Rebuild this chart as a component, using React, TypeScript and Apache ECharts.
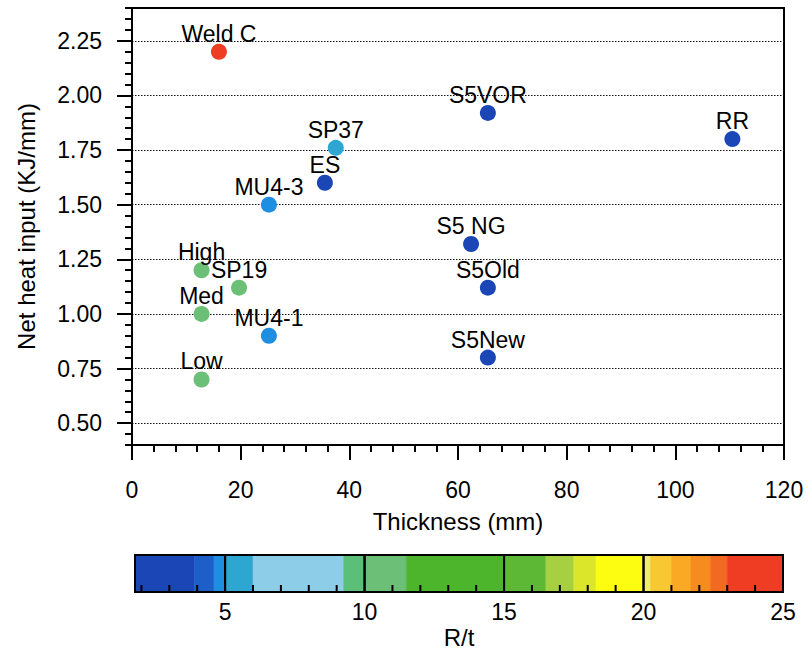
import React, { useEffect, useRef } from "react";
import * as echarts from "echarts";

// ---- data ----
const pointNames = ["Weld C", "S5VOR", "RR", "SP37", "ES", "MU4-3", "S5 NG", "High", "SP19", "S5Old", "Med", "MU4-1", "S5New", "Low"];
const thickness = [16, 65.5, 110.5, 37.5, 35.5, 25.2, 62.4, 12.8, 19.7, 65.5, 12.8, 25.2, 65.5, 12.8];
const heatInput = [2.2, 1.92, 1.8, 1.76, 1.6, 1.5, 1.32, 1.2, 1.12, 1.12, 1.0, 0.9, 0.8, 0.7];
const rtValues = [24, 2.5, 2.5, 5.5, 2.5, 4.8, 2.5, 10.5, 10.8, 2.5, 10.5, 4.8, 2.5, 10.5];

const yMajorTicks = [0.5, 0.75, 1.0, 1.25, 1.5, 1.75, 2.0, 2.25];

// colour bar (R/t)
const cbStarts = [1.77, 3.9, 4.6, 5, 6, 9.25, 10, 11.5, 15, 16.5, 17.5, 18.3, 20, 20.25, 21, 21.7, 22.4, 23];
const cbEnds = [3.9, 4.6, 5, 6, 9.25, 10, 11.5, 15, 16.5, 17.5, 18.3, 20, 20.25, 21, 21.7, 22.4, 23, 25];
const cbColors = [
  "#1a47b5", "#1d5ec9", "#1e8ee0", "#2ea6d2", "#8dcde8", "#5cbf78", "#6bbf76", "#4cb52c",
  "#5db935", "#a6d040", "#dbe62a", "#fdfd12", "#f0ec70", "#f8c832", "#f9a924", "#f68b1f",
  "#f26922", "#ef3d23",
];
const cbBoxStarts = [1.77, 5, 10, 15, 20];
const cbBoxEnds = [5, 10, 15, 20, 25];
const cbLabelValues = [5, 10, 15, 20, 25];
const cbMinorTicks = [2, 3, 4, 6, 7, 8, 9, 11, 12, 13, 14, 16, 17, 18, 19, 21, 22, 23, 24];

const FONT = "'Liberation Sans', Arial, Helvetica, sans-serif";
const TICK_FS = 23;
const TITLE_FS = 24;

export default function App() {
  const ref = useRef<HTMLDivElement>(null);
  useEffect(() => {
    if (!ref.current) return;
    const chart = echarts.init(ref.current, undefined, { renderer: "svg" });
    const black = "#000";
    const option: any = {
      animation: false,
      backgroundColor: "#fff",
      textStyle: { fontFamily: FONT, color: black },
      grid: [
        { left: 132, top: 8, width: 652, height: 437, show: true, borderColor: black, borderWidth: 2, containLabel: false },
        { left: 135, top: 555, width: 648, height: 37, containLabel: false },
      ],
      visualMap: {
        type: "piecewise",
        show: false,
        dimension: 2,
        seriesIndex: 0,
        pieces: cbStarts.map((s, i) => ({ gte: s, lt: cbEnds[i], color: cbColors[i] })),
      },
      xAxis: [
        {
          gridIndex: 0,
          type: "value",
          min: 0,
          max: 120,
          interval: 20,
          axisLine: { show: true, lineStyle: { color: black, width: 2 } },
          axisTick: { show: true, length: 15, lineStyle: { color: black, width: 2 } },
          minorTick: { show: true, splitNumber: 5, length: 7, lineStyle: { color: black, width: 2 } },
          axisLabel: { color: black, fontSize: TICK_FS, fontFamily: FONT, margin: 33 },
          splitLine: { show: false },
          name: "Thickness (mm)",
          nameLocation: "middle",
          nameGap: 64,
          nameTextStyle: { color: black, fontSize: TITLE_FS, fontFamily: FONT },
        },
        {
          gridIndex: 1,
          type: "value",
          min: 1.77,
          max: 25,
          axisLine: { show: false },
          axisTick: { show: false },
          axisLabel: { color: black, fontSize: TICK_FS, fontFamily: FONT, margin: 8, customValues: cbLabelValues },
          splitLine: { show: false },
          name: "R/t",
          nameLocation: "middle",
          nameGap: 33,
          nameTextStyle: { color: black, fontSize: TITLE_FS, fontFamily: FONT },
        },
      ],
      yAxis: [
        {
          gridIndex: 0,
          type: "value",
          min: 0.4,
          max: 2.4,
          interval: 0.05,
          axisLine: { show: true, lineStyle: { color: black, width: 2 } },
          axisTick: { show: true, length: 7, lineStyle: { color: black, width: 2 } },
          axisLabel: { show: false },
          splitLine: { show: false },
        },
        {
          gridIndex: 0,
          type: "value",
          min: 0.4,
          max: 2.4,
          position: "left",
          axisLine: { show: true, lineStyle: { color: black, width: 2 } },
          axisTick: { show: true, length: 15, customValues: yMajorTicks, lineStyle: { color: black, width: 2 } },
          axisLabel: {
            color: black,
            fontSize: TICK_FS,
            fontFamily: FONT,
            margin: 30,
            customValues: yMajorTicks,
            formatter: (v: number) => v.toFixed(2),
          },
          splitLine: { show: true, lineStyle: { color: "#111", width: 1.2, type: [1.5, 1.5] } },
          name: "Net heat input (KJ/mm)",
          nameLocation: "middle",
          nameGap: 94,
          nameTextStyle: { color: black, fontSize: TITLE_FS, fontFamily: FONT },
        },
        {
          gridIndex: 1,
          type: "value",
          min: 0,
          max: 1,
          show: false,
        },
      ],
      series: [
        {
          type: "scatter",
          xAxisIndex: 0,
          yAxisIndex: 0,
          symbolSize: 16,
          z: 3,
          itemStyle: { opacity: 1 },
          data: pointNames.map((n, i) => ({ name: n, value: [thickness[i], heatInput[i], rtValues[i]] })),
          label: {
            show: true,
            position: "top",
            distance: 0,
            formatter: "{b}",
            color: black,
            fontSize: TICK_FS,
            lineHeight: 20,
            fontFamily: FONT,
          },
        },
        {
          type: "custom",
          xAxisIndex: 1,
          yAxisIndex: 2,
          z: 2,
          silent: true,
          data: cbStarts.map((s, i) => [s, cbEnds[i], i]),
          renderItem: (params: any, api: any) => {
            const p0 = api.coord([api.value(0), 0]);
            const p1 = api.coord([api.value(1), 1]);
            const c = cbColors[api.value(2)];
            return {
              type: "rect",
              shape: { x: p0[0], y: p1[1], width: p1[0] - p0[0], height: p0[1] - p1[1] },
              style: { fill: c, stroke: c, lineWidth: 0.5 },
            };
          },
        },
        {
          type: "custom",
          xAxisIndex: 1,
          yAxisIndex: 2,
          z: 5,
          silent: true,
          data: cbBoxStarts.map((s, i) => [s, cbBoxEnds[i]]),
          renderItem: (params: any, api: any) => {
            const p0 = api.coord([api.value(0), 0]);
            const p1 = api.coord([api.value(1), 1]);
            return {
              type: "rect",
              shape: { x: p0[0], y: p1[1], width: p1[0] - p0[0], height: p0[1] - p1[1] },
              style: { fill: "none", stroke: black, lineWidth: 2 },
            };
          },
        },
        {
          type: "scatter",
          xAxisIndex: 1,
          yAxisIndex: 2,
          z: 6,
          silent: true,
          clip: false,
          symbol: "rect",
          symbolSize: [2, 7],
          symbolOffset: [0, -3.5],
          itemStyle: { color: black, opacity: 1 },
          data: cbMinorTicks.map((v) => [v, 0]),
        },
      ],
    };
    chart.setOption(option);
    return () => chart.dispose();
  }, []);
  return (
    <div
      ref={ref}
      style={{ position: "fixed", left: 0, top: 0, width: 809, height: 655, background: "#fff" }}
    />
  );
}
